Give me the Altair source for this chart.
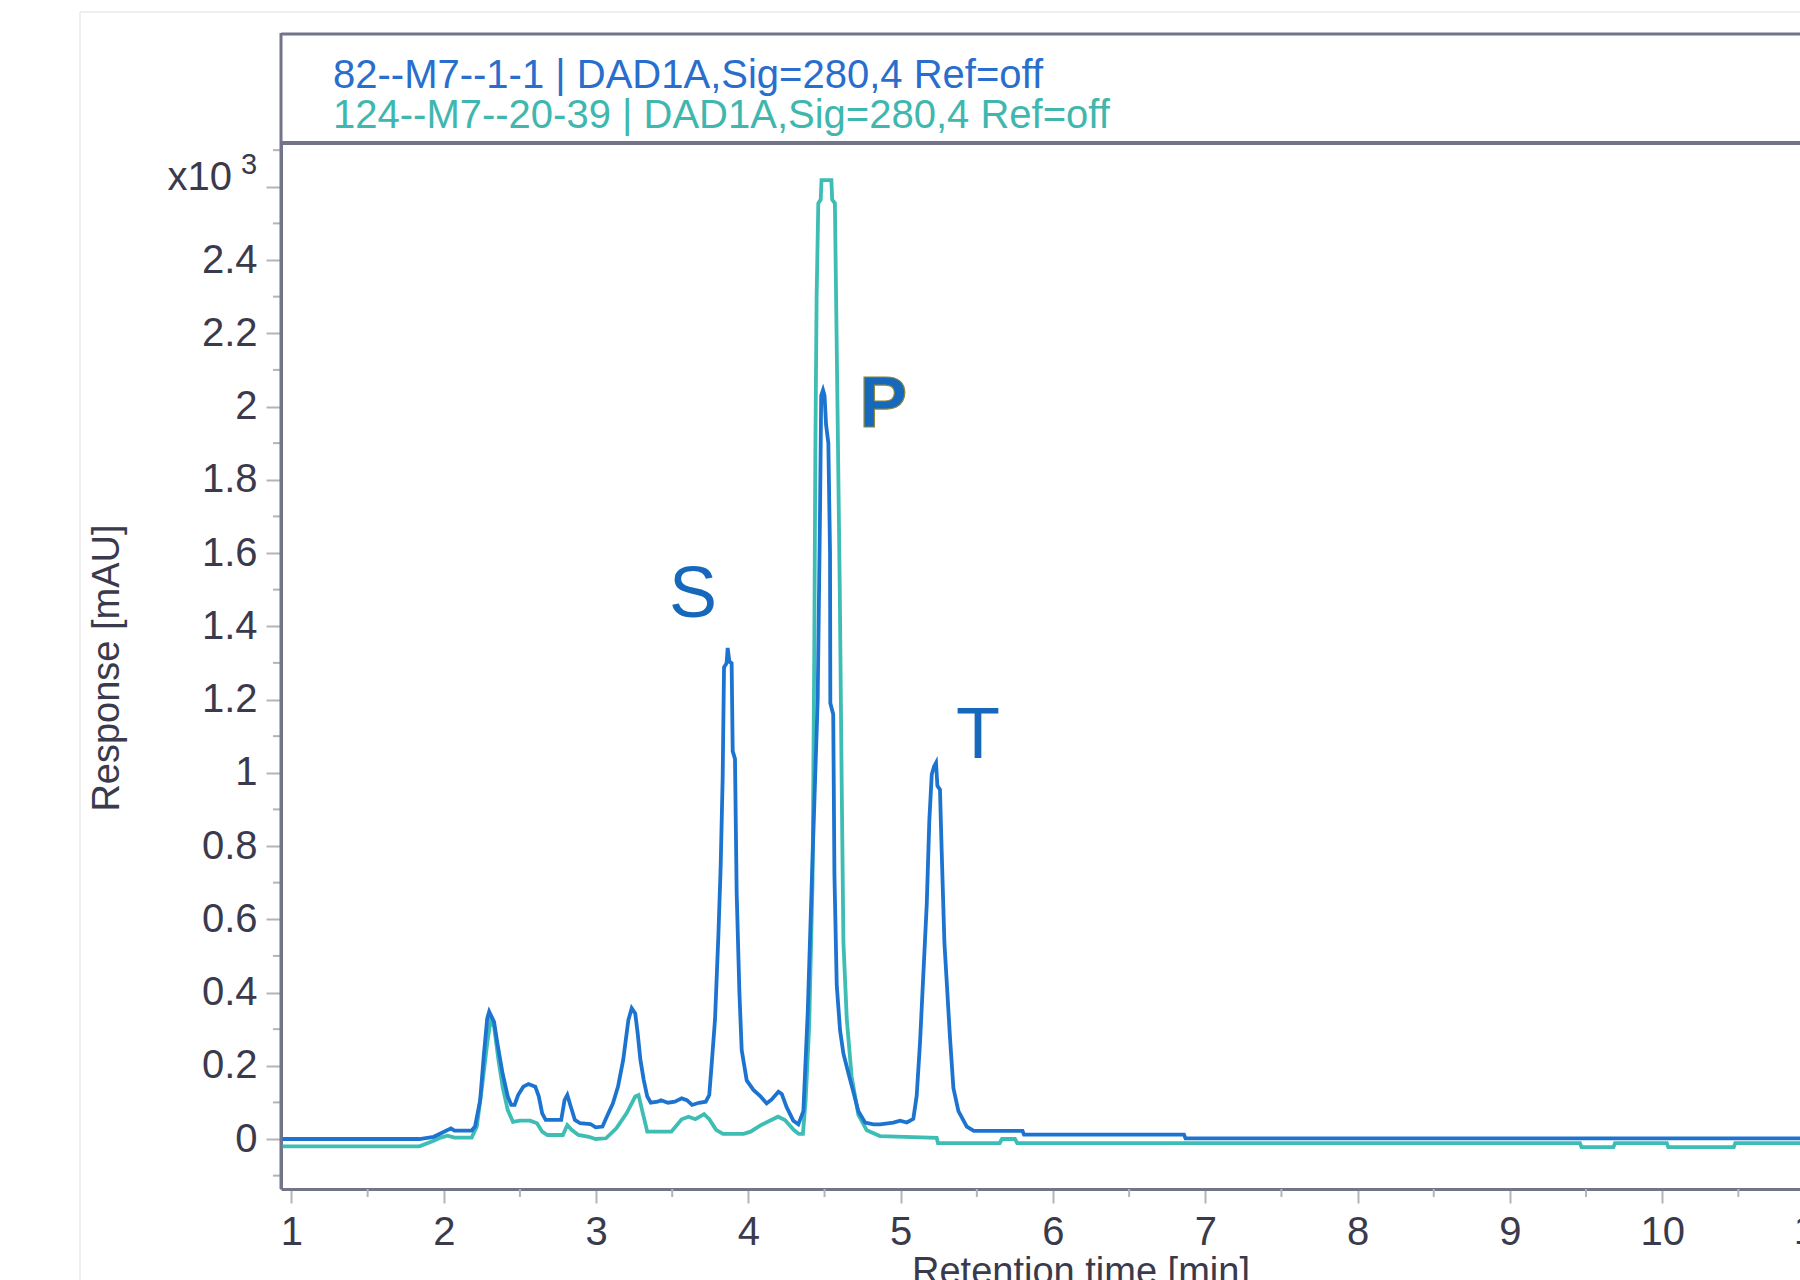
import altair as alt
import pandas as pd

# ---------------- data ----------------
series_names = ["82--M7--1-1 | DAD1A,Sig=280,4 Ref=off",
                "124--M7--20-39 | DAD1A,Sig=280,4 Ref=off"]

blue_time = [0.931, 1.84, 1.934, 2.002, 2.047, 2.070, 2.183, 2.205, 2.239, 2.262, 2.285, 2.298, 2.307,
             2.330, 2.352, 2.386, 2.420, 2.443, 2.465, 2.488, 2.522, 2.556, 2.601, 2.624, 2.646, 2.669,
             2.771, 2.793, 2.811, 2.834, 2.861, 2.895, 2.963, 2.997, 3.042, 3.076, 3.110, 3.144, 3.178,
             3.212, 3.234, 3.257, 3.273, 3.291, 3.313, 3.336, 3.359, 3.404, 3.426, 3.472, 3.517, 3.562,
             3.596, 3.630, 3.675, 3.720, 3.743, 3.761, 3.781, 3.803, 3.818, 3.831, 3.840, 3.857, 3.864,
             3.875, 3.890, 3.897, 3.912, 3.923, 3.941, 3.956, 3.989, 4.033, 4.076, 4.120, 4.153, 4.197,
             4.219, 4.251, 4.295, 4.328, 4.361, 4.390, 4.420, 4.455, 4.470, 4.478, 4.490, 4.500, 4.510,
             4.525, 4.536, 4.538, 4.557, 4.565, 4.580, 4.602, 4.624, 4.656, 4.689, 4.722, 4.766, 4.821,
             4.864, 4.952, 4.996, 5.040, 5.083, 5.105, 5.127, 5.149, 5.171, 5.188, 5.204, 5.219, 5.232,
             5.241, 5.258, 5.269, 5.287, 5.302, 5.324, 5.346, 5.379, 5.434, 5.48, 5.80, 5.81, 6.86,
             6.87, 10.905]
blue_resp = [0.000, 0.000, 0.006, 0.020, 0.029, 0.023, 0.023, 0.034, 0.106, 0.225, 0.329, 0.348, 0.340,
             0.320, 0.261, 0.179, 0.116, 0.093, 0.093, 0.120, 0.143, 0.150, 0.143, 0.116, 0.070, 0.052,
             0.052, 0.106, 0.120, 0.088, 0.052, 0.043, 0.041, 0.032, 0.034, 0.066, 0.097, 0.143, 0.216,
             0.325, 0.357, 0.343, 0.289, 0.216, 0.161, 0.116, 0.099, 0.102, 0.106, 0.099, 0.102, 0.111,
             0.106, 0.093, 0.099, 0.102, 0.120, 0.216, 0.327, 0.557, 0.745, 0.985, 1.288, 1.299, 1.341,
             1.304, 1.299, 1.059, 1.038, 0.672, 0.400, 0.243, 0.160, 0.134, 0.118, 0.097, 0.108, 0.129,
             0.123, 0.087, 0.050, 0.040, 0.076, 0.350, 0.750, 1.200, 1.700, 2.030, 2.045, 2.030, 1.950,
             1.900, 1.600, 1.190, 1.160, 0.720, 0.421, 0.296, 0.233, 0.181, 0.129, 0.076, 0.045, 0.040,
             0.040, 0.045, 0.050, 0.045, 0.055, 0.118, 0.264, 0.452, 0.640, 0.870, 0.996, 1.017, 1.027,
             0.964, 0.954, 0.787, 0.536, 0.431, 0.275, 0.139, 0.076, 0.034, 0.022, 0.022, 0.012, 0.012,
             0.002, 0.002]

teal_time = [0.931, 1.84, 1.934, 1.979, 2.025, 2.070, 2.183, 2.217, 2.251, 2.285, 2.307, 2.330, 2.359,
             2.386, 2.420, 2.454, 2.499, 2.567, 2.612, 2.646, 2.680, 2.782, 2.811, 2.839, 2.884, 2.952,
             2.997, 3.065, 3.133, 3.200, 3.257, 3.279, 3.302, 3.336, 3.494, 3.562, 3.607, 3.652, 3.709,
             3.743, 3.788, 3.833, 3.969, 4.014, 4.082, 4.150, 4.195, 4.240, 4.297, 4.331, 4.358, 4.376,
             4.399, 4.421, 4.432, 4.440, 4.448, 4.459, 4.475, 4.480, 4.545, 4.550, 4.568, 4.585, 4.600,
             4.613, 4.624, 4.646, 4.678, 4.722, 4.777, 4.864, 5.236, 5.245, 5.650, 5.665, 5.750, 5.765,
             9.46, 9.47, 9.68, 9.69, 10.03, 10.04, 10.47, 10.48, 10.905]
teal_resp = [-0.020, -0.020, -0.005, 0.004, 0.009, 0.004, 0.004, 0.034, 0.143, 0.261, 0.325, 0.307, 0.216,
             0.143, 0.079, 0.047, 0.050, 0.050, 0.043, 0.020, 0.011, 0.011, 0.038, 0.025, 0.011, 0.006,
             0.000, 0.002, 0.029, 0.070, 0.116, 0.120, 0.079, 0.020, 0.020, 0.054, 0.061, 0.054, 0.068,
             0.054, 0.025, 0.014, 0.014, 0.020, 0.038, 0.052, 0.061, 0.052, 0.025, 0.014, 0.014, 0.106,
             0.307, 0.700, 1.300, 1.900, 2.300, 2.555, 2.565, 2.618, 2.618, 2.565, 2.555, 2.000, 1.500,
             0.954, 0.536, 0.327, 0.170, 0.066, 0.024, 0.008, 0.003, -0.011, -0.011, 0.000, 0.000, -0.011,
             -0.011, -0.022, -0.022, -0.011, -0.011, -0.022, -0.022, -0.011, -0.011]

y_tick_values = [0, 0.2, 0.4, 0.6, 0.8, 1.0, 1.2, 1.4, 1.6, 1.8, 2.0, 2.2, 2.4, 2.6]
y_minor_values = [-0.1, 0.1, 0.3, 0.5, 0.7, 0.9, 1.1, 1.3, 1.5, 1.7, 1.9, 2.1, 2.3, 2.5, 2.7]
x_tick_values = [1, 2, 3, 4, 5, 6, 7, 8, 9, 10]
x_minor_values = [1.5, 2.5, 3.5, 4.5, 5.5, 6.5, 7.5, 8.5, 9.5, 10.5]
x_extra_label = [11]

peak_labels = ["S", "P", "T"]
peak_label_t = [3.636, 4.886, 5.508]
peak_label_r = [1.425, 1.945, 1.040]

# ---------------- styling ----------------
BLUE = "#1c74d0"
TEAL = "#3dbdb4"
BLUE_TXT = "#2a6ecd"
TEAL_TXT = "#3fb7af"
PEAK_TXT = "#1568bb"
AXIS = "#727489"
TICK = "#b4b4b8"
LABEL = "#3a3a4c"
FONT = "Liberation Sans"

W, H = 1519, 1046
X_DOM = [0.9311, 10.9048]
Y_DOM = [-0.1365, 2.7195]
xs = alt.Scale(domain=X_DOM, nice=False, zero=False)
ys = alt.Scale(domain=Y_DOM, nice=False, zero=False)

df_blue = pd.DataFrame({"t": blue_time, "r": blue_resp})
df_teal = pd.DataFrame({"t": teal_time, "r": teal_resp})

x_axis = alt.Axis(values=x_tick_values, format="d", tickSize=14, tickWidth=2, tickColor=TICK,
                  domainColor=AXIS, domainWidth=3, labelFontSize=40, labelFont=FONT,
                  labelColor=LABEL, labelPadding=9, grid=False, title=None,
                  labelFlush=False, labelOverlap=False)
y_axis = alt.Axis(values=y_tick_values, tickSize=15, tickWidth=2, tickColor=TICK,
                  domainColor=AXIS, domainWidth=3, labelFontSize=40, labelFont=FONT,
                  labelColor=LABEL, labelPadding=9, grid=False, title=None,
                  labelFlush=False, labelOverlap=False,
                  labelExpr="datum.value > 2.5 ? '' : format(datum.value, '~g')")


def X(field):
    return alt.X(field, type="quantitative", scale=xs, axis=x_axis)


def Y(field):
    return alt.Y(field, type="quantitative", scale=ys, axis=y_axis)


teal_line = alt.Chart(df_teal).mark_line(color=TEAL, strokeWidth=3.8, clip=True).encode(
    x=X("t"), y=Y("r"))
blue_line = alt.Chart(df_blue).mark_line(color=BLUE, strokeWidth=3.8, clip=True).encode(
    x=X("t"), y=Y("r"))

y_minor = alt.Chart(pd.DataFrame({"v": y_minor_values})).mark_rule(color=TICK, strokeWidth=2).encode(
    y=Y("v"), x=alt.value(-8), x2=alt.value(0))
x_minor = alt.Chart(pd.DataFrame({"v": x_minor_values})).mark_rule(color=TICK, strokeWidth=2).encode(
    x=X("v"), y=alt.value(H), y2=alt.value(H + 8))
x_more = alt.Chart(pd.DataFrame({"v": x_extra_label, "lab": [str(v) for v in x_extra_label]})).mark_text(
    fontSize=40, font=FONT, color=LABEL, baseline="top", align="center", dy=0).encode(
    x=X("v"), y=alt.value(H + 14 + 9), text="lab:N")
x_more_tick = alt.Chart(pd.DataFrame({"v": x_extra_label})).mark_rule(color=TICK, strokeWidth=2).encode(
    x=X("v"), y=alt.value(H), y2=alt.value(H + 14))

# faint outer frame of the original screenshot
frame_left = alt.Chart().mark_rule(color="#efefef", strokeWidth=2).encode(
    x=alt.value(-201), y=alt.value(-131), y2=alt.value(H + 200))
frame_top = alt.Chart().mark_rule(color="#efefef", strokeWidth=2).encode(
    x=alt.value(-201), x2=alt.value(W + 20), y=alt.value(-131))

# header box
hdr_top = alt.Chart().mark_rule(color=AXIS, strokeWidth=3).encode(
    x=alt.value(0), x2=alt.value(W + 20), y=alt.value(-109))
hdr_bot = alt.Chart().mark_rule(color=AXIS, strokeWidth=4).encode(
    x=alt.value(0), x2=alt.value(W + 20), y=alt.value(0))
hdr_left = alt.Chart().mark_rule(color=AXIS, strokeWidth=3).encode(
    x=alt.value(0), y=alt.value(-110), y2=alt.value(H))

hdr_text1 = alt.Chart().mark_text(text=series_names[0], font=FONT, fontSize=40,
                                  color=BLUE_TXT, align="left", baseline="alphabetic").encode(
    x=alt.value(52), y=alt.value(-55))
hdr_text2 = alt.Chart().mark_text(text=series_names[1], font=FONT, fontSize=40,
                                  color=TEAL_TXT, align="left", baseline="alphabetic").encode(
    x=alt.value(52), y=alt.value(-15))

# exponent label
exp_x10 = alt.Chart().mark_text(text="x10", font=FONT, fontSize=40, color=LABEL,
                                align="right", baseline="alphabetic").encode(
    x=alt.value(-49), y=alt.value(47))
exp_3 = alt.Chart().mark_text(text="3", font=FONT, fontSize=29, color=LABEL,
                              align="left", baseline="alphabetic").encode(
    x=alt.value(-40), y=alt.value(31))

# axis titles
y_title = alt.Chart().mark_text(text="Response [mAU]", font=FONT, fontSize=38, color=LABEL,
                                angle=270, align="center", baseline="alphabetic").encode(
    x=alt.value(-162), y=alt.value(525))
x_title = alt.Chart().mark_text(text="Retention time [min]", font=FONT, fontSize=38, color=LABEL,
                                align="center", baseline="alphabetic").encode(
    x=alt.value(800), y=alt.value(1141))

# peak annotations
df_pk = pd.DataFrame({"lab": peak_labels, "t": peak_label_t, "r": peak_label_r})
pk_regular = alt.Chart(df_pk).transform_filter("datum.lab != 'P'").mark_text(
    font=FONT, fontSize=72, color=PEAK_TXT, align="center", baseline="alphabetic").encode(
    x=X("t"), y=Y("r"), text="lab:N")
pk_bold = alt.Chart(df_pk).transform_filter("datum.lab == 'P'").mark_text(
    font=FONT, fontSize=72, fontWeight="bold", color=PEAK_TXT, stroke="#8a8a3e", strokeWidth=1.2,
    align="center", baseline="alphabetic").encode(
    x=X("t"), y=Y("r"), text="lab:N")

chart = alt.layer(
    frame_left, frame_top,
    teal_line, blue_line, y_minor, x_minor, x_more_tick, x_more,
    hdr_top, hdr_bot, hdr_left, hdr_text1, hdr_text2, exp_x10, exp_3,
    y_title, x_title, pk_regular, pk_bold,
).properties(
    width=W, height=H,
    padding={"left": 281, "top": 143, "right": 0, "bottom": 91},
    autosize=alt.AutoSizeParams(type="none"),
    background="white",
).configure_view(stroke=None)

chart.save("out.html", embed_options={"renderer": "svg", "actions": False})
